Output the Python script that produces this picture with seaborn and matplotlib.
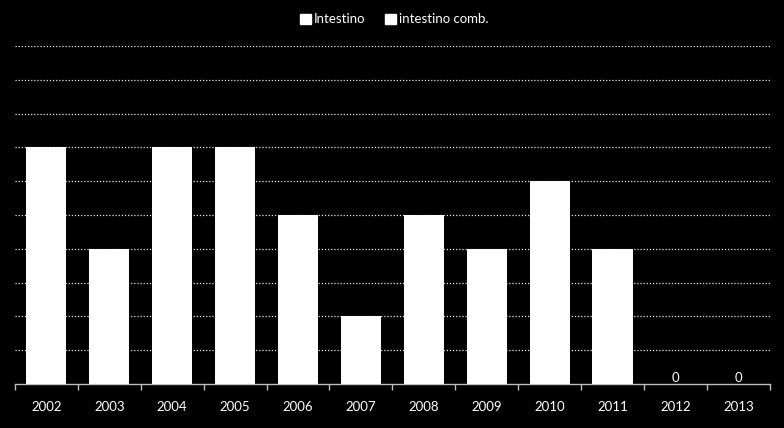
import matplotlib
matplotlib.use("Agg")
import matplotlib.pyplot as plt
import seaborn as sns
import pandas as pd
from matplotlib.patches import Patch

years = ["2002", "2003", "2004", "2005", "2006", "2007", "2008", "2009", "2010", "2011", "2012", "2013"]
intestino = [7, 4, 7, 7, 5, 2, 5, 4, 6, 4, 0, 0]
intestino_comb = [0, 0, 0, 0, 0, 0, 0, 0, 0, 0, 0, 0]

sns.set_theme(style="dark")
plt.rcParams['font.family'] = ['Lato', 'DejaVu Sans']

df = pd.DataFrame({"year": years, "Intestino": intestino, "intestino comb.": intestino_comb})

fig = plt.figure(figsize=(7.84, 4.28), dpi=100, facecolor="black")
ax = fig.add_axes([0.019, 0.1028, 0.963, 0.7897])
ax.set_facecolor("black")

sns.barplot(data=df, x="year", y="Intestino", color="white", width=0.64,
            saturation=1, ax=ax, edgecolor="white", linewidth=0, zorder=3)

# zero-valued data labels for the combined series
for i, (v1, v2) in enumerate(zip(intestino, intestino_comb)):
    if v1 == 0:
        ax.text(i, 0.0, str(v2), ha="center", va="bottom", color="white", fontsize=9.5, zorder=4)

ax.set_ylim(0, 10)
ax.set_xlim(-0.5, len(years) - 0.5)
ax.set_yticks(range(1, 11))
ax.set_yticklabels([])
ax.yaxis.grid(True, color="white", linestyle=(0, (1, 1.5)), linewidth=0.9, alpha=0.9, zorder=0)
ax.xaxis.grid(False)
ax.tick_params(axis="y", length=0)
ax.set_xlabel("")
ax.set_ylabel("")

for s in ["top", "right", "left"]:
    ax.spines[s].set_visible(False)
ax.spines["bottom"].set_visible(True)
ax.spines["bottom"].set_color("#bfbfbf")
ax.spines["bottom"].set_linewidth(1)

# ticks between categories
ax.set_xticks([i for i in range(len(years))])
ax.set_xticklabels(years, color="white", fontsize=9.5)
ax.tick_params(axis="x", length=0, pad=12)
ax.set_xticks([i - 0.5 for i in range(len(years) + 1)], minor=True)
ax.tick_params(axis="x", which="minor", length=4, color="#bfbfbf", width=1, direction="out", bottom=True)

handles = [Patch(facecolor="white", edgecolor="white", label="Intestino"),
           Patch(facecolor="white", edgecolor="white", label="intestino comb.")]
fig.legend(handles=handles, loc="center", bbox_to_anchor=(0.503, 0.955), ncol=2, frameon=False,
           labelcolor="white", fontsize=9.5, handlelength=0.8, handleheight=0.8,
           handletextpad=0.25, columnspacing=1.5)

fig.savefig("out.png", dpi=100, facecolor="black")
